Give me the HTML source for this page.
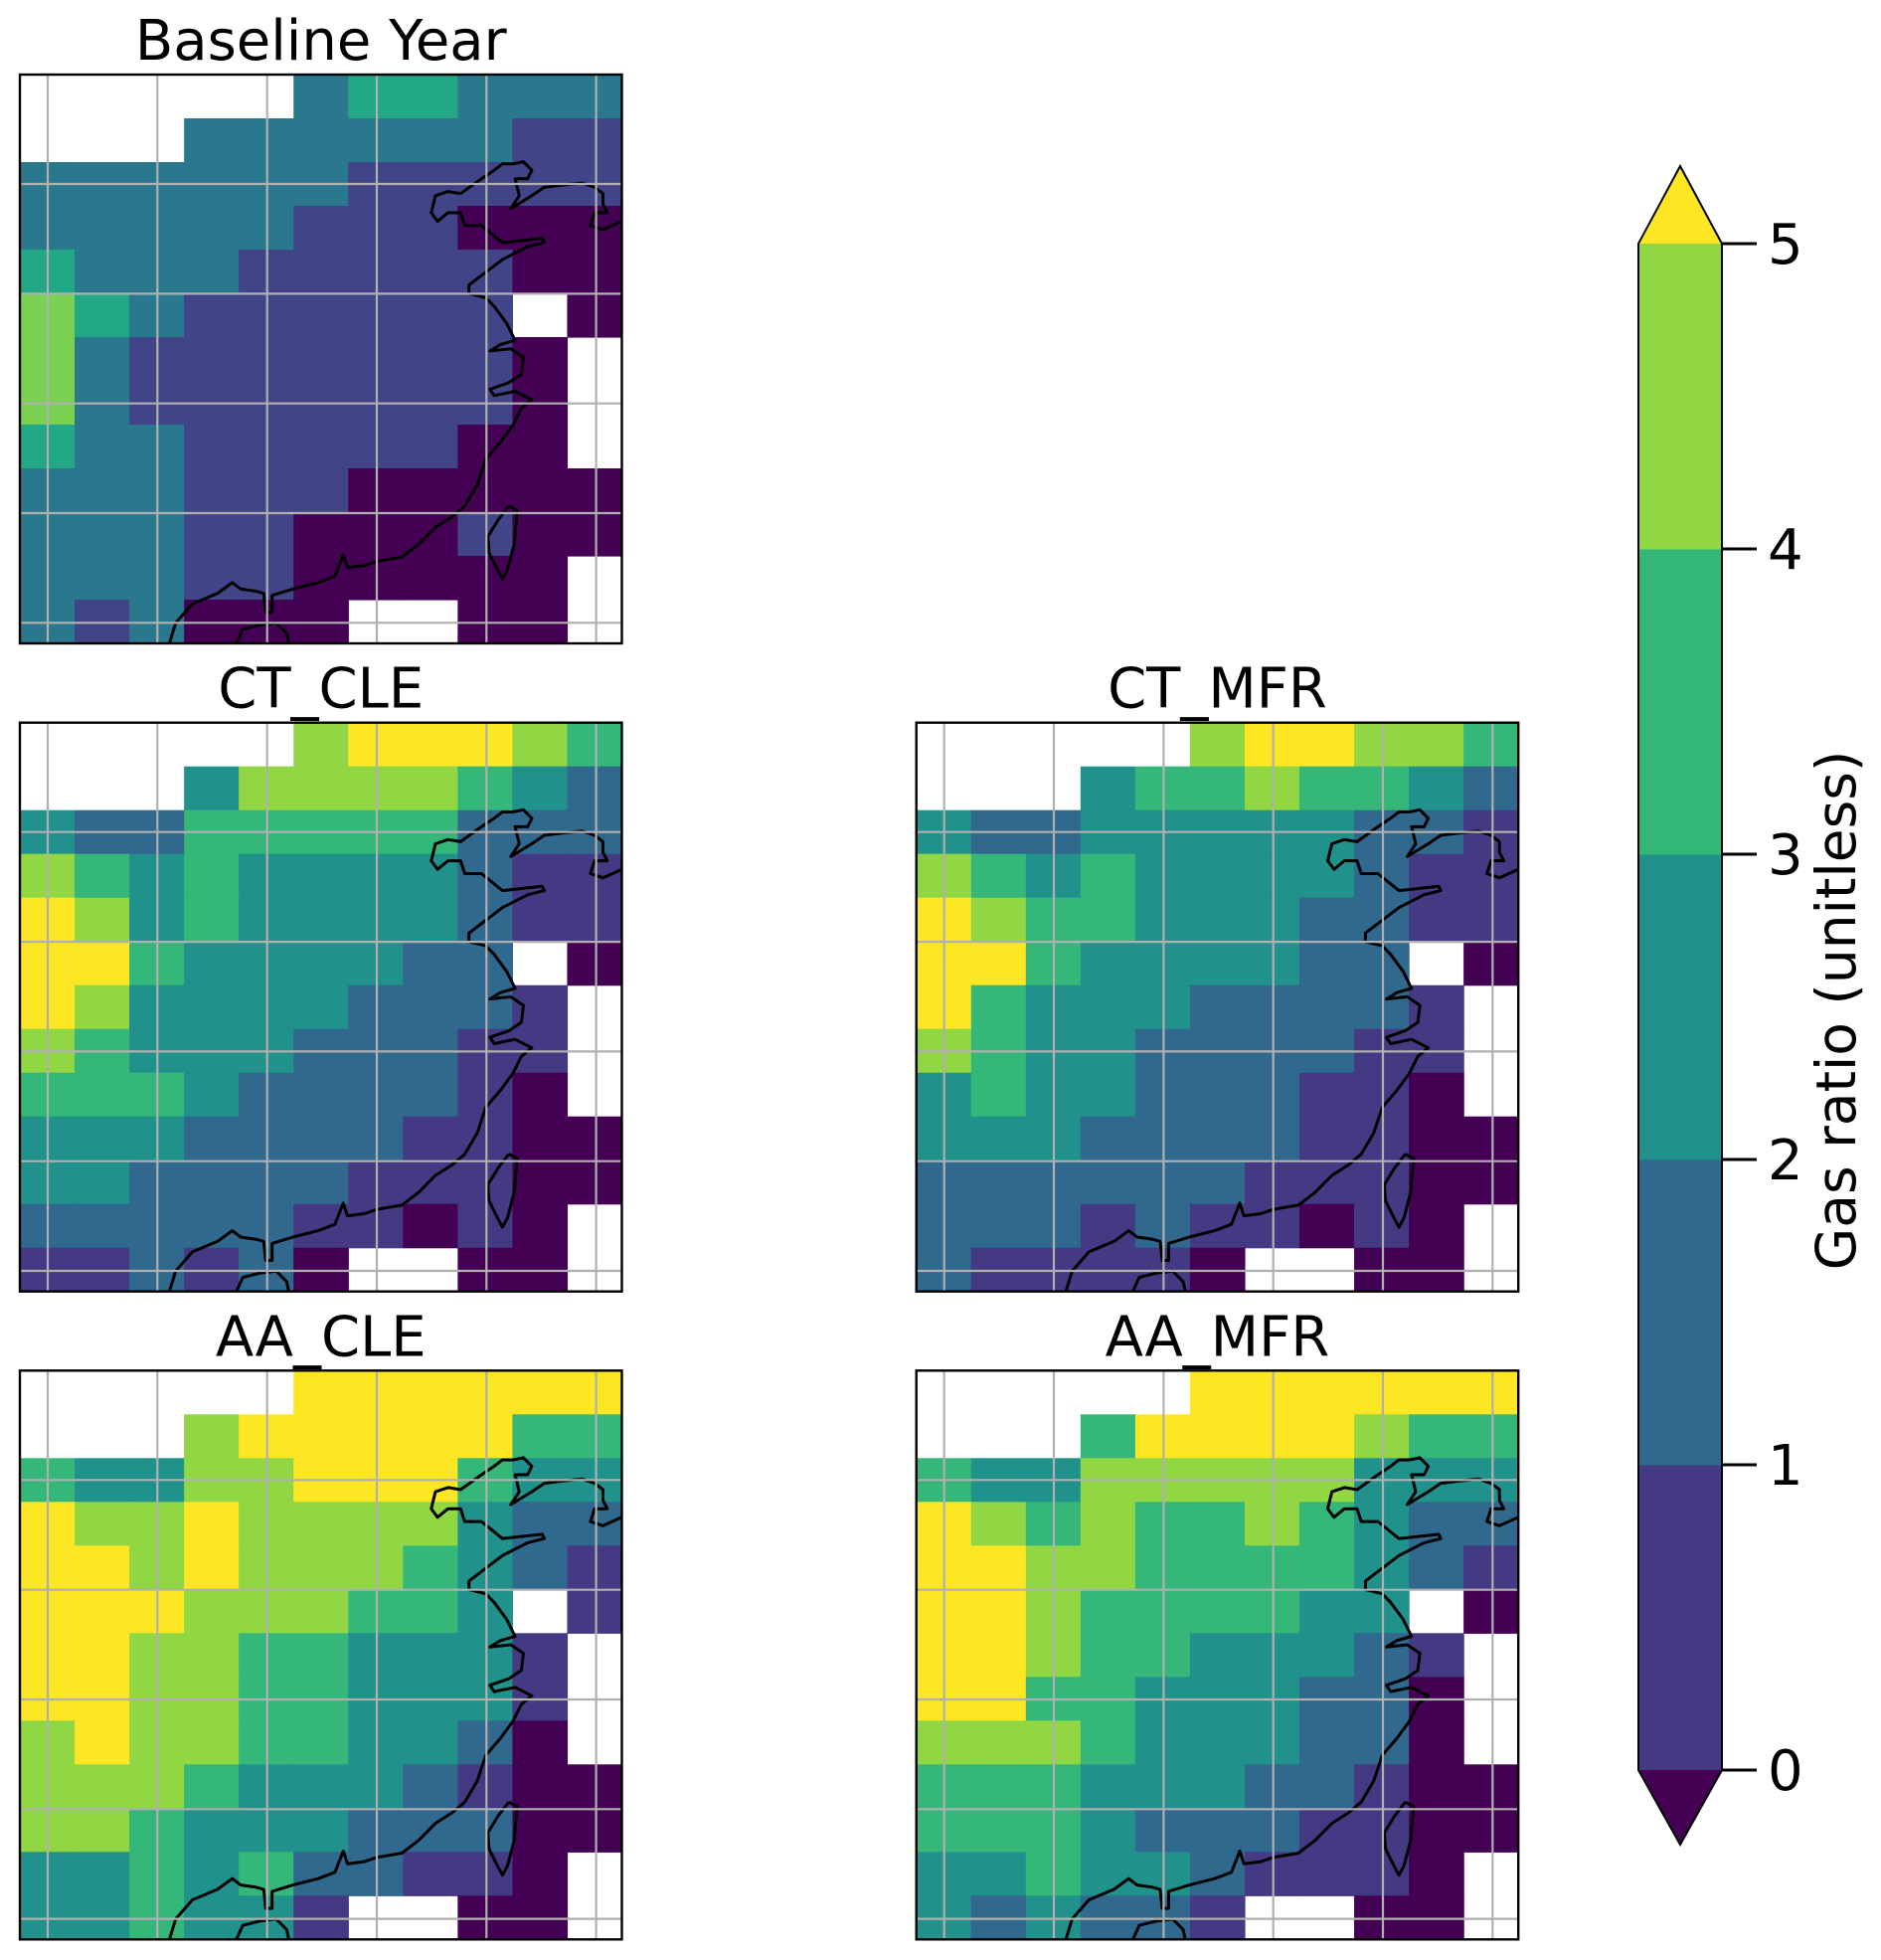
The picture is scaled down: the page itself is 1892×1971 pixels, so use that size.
<!DOCTYPE html>
<html><head><meta charset="utf-8"><style>
html,body{margin:0;padding:0;background:#fff;}
svg{display:block;font-family:"DejaVu Sans","Liberation Sans",sans-serif;}
</style></head><body>
<svg id="fig" width="1892" height="1971" viewBox="0 0 1892 1971" xmlns="http://www.w3.org/2000/svg"></svg>
<script>
const W = null;
const baselineVals = [
[W,W,W,W,W,1.5,2.5,2.5,1.5,1.5,1.5],
[W,W,W,1.5,1.5,1.5,1.5,1.5,1.5,0.5,0.5],
[1.5,1.5,1.5,1.5,1.5,1.5,0.5,0.5,0.5,0.5,0.5],
[1.5,1.5,1.5,1.5,1.5,0.5,0.5,0.5,-0.5,-0.5,-0.5],
[2.5,1.5,1.5,1.5,0.5,0.5,0.5,0.5,0.5,-0.5,-0.5],
[3.5,2.5,1.5,0.5,0.5,0.5,0.5,0.5,0.5,W,-0.5],
[3.5,1.5,0.5,0.5,0.5,0.5,0.5,0.5,0.5,-0.5,W],
[3.5,1.5,0.5,0.5,0.5,0.5,0.5,0.5,0.5,-0.5,W],
[2.5,1.5,1.5,0.5,0.5,0.5,0.5,0.5,-0.5,-0.5,W],
[1.5,1.5,1.5,0.5,0.5,0.5,-0.5,-0.5,-0.5,-0.5,-0.5],
[1.5,1.5,1.5,0.5,0.5,-0.5,-0.5,-0.5,0.5,-0.5,-0.5],
[1.5,1.5,1.5,0.5,0.5,-0.5,-0.5,-0.5,-0.5,-0.5,W],
[1.5,0.5,1.5,-0.5,-0.5,-0.5,W,W,-0.5,-0.5,W]];
const ctCleVals = [
[W,W,W,W,W,4.5,5.5,5.5,5.5,4.5,3.5],
[W,W,W,2.5,4.5,4.5,4.5,4.5,3.5,2.5,1.5],
[2.5,1.5,1.5,3.5,3.5,3.5,3.5,3.5,1.5,1.5,1.5],
[4.5,3.5,2.5,3.5,2.5,2.5,2.5,2.5,1.5,0.5,0.5],
[5.5,4.5,2.5,3.5,2.5,2.5,2.5,2.5,1.5,0.5,0.5],
[5.5,5.5,3.5,2.5,2.5,2.5,2.5,1.5,1.5,W,-0.5],
[5.5,4.5,2.5,2.5,2.5,2.5,1.5,1.5,1.5,0.5,W],
[4.5,3.5,2.5,2.5,2.5,1.5,1.5,1.5,0.5,0.5,W],
[3.5,3.5,3.5,2.5,1.5,1.5,1.5,1.5,0.5,-0.5,W],
[2.5,2.5,2.5,1.5,1.5,1.5,1.5,0.5,0.5,-0.5,-0.5],
[2.5,2.5,1.5,1.5,1.5,1.5,0.5,0.5,0.5,-0.5,-0.5],
[1.5,1.5,1.5,1.5,1.5,0.5,0.5,-0.5,0.5,-0.5,W],
[0.5,0.5,1.5,0.5,1.5,-0.5,W,W,-0.5,-0.5,W]];
const ctMfrVals = [
[W,W,W,W,W,4.5,5.5,5.5,4.5,4.5,3.5],
[W,W,W,2.5,3.5,3.5,4.5,3.5,3.5,2.5,1.5],
[2.5,1.5,1.5,2.5,2.5,2.5,2.5,2.5,1.5,1.5,0.5],
[4.5,3.5,2.5,3.5,2.5,2.5,2.5,2.5,1.5,0.5,0.5],
[5.5,4.5,3.5,3.5,2.5,2.5,2.5,1.5,1.5,0.5,0.5],
[5.5,5.5,3.5,2.5,2.5,2.5,2.5,1.5,1.5,W,-0.5],
[5.5,3.5,2.5,2.5,2.5,1.5,1.5,1.5,1.5,0.5,W],
[4.5,3.5,2.5,2.5,1.5,1.5,1.5,1.5,0.5,0.5,W],
[2.5,3.5,2.5,2.5,1.5,1.5,1.5,0.5,0.5,-0.5,W],
[2.5,2.5,2.5,1.5,1.5,1.5,1.5,0.5,0.5,-0.5,-0.5],
[1.5,1.5,1.5,1.5,1.5,1.5,0.5,0.5,0.5,-0.5,-0.5],
[1.5,1.5,1.5,0.5,1.5,0.5,0.5,-0.5,0.5,-0.5,W],
[1.5,0.5,0.5,0.5,0.5,-0.5,W,W,-0.5,-0.5,W]];
const aaCleVals = [
[W,W,W,W,W,5.5,5.5,5.5,5.5,5.5,5.5],
[W,W,W,4.5,5.5,5.5,5.5,5.5,5.5,3.5,3.5],
[3.5,2.5,2.5,4.5,4.5,5.5,5.5,5.5,3.5,2.5,2.5],
[5.5,4.5,4.5,5.5,4.5,4.5,4.5,4.5,2.5,1.5,1.5],
[5.5,5.5,4.5,5.5,4.5,4.5,4.5,3.5,2.5,1.5,0.5],
[5.5,5.5,5.5,4.5,4.5,4.5,3.5,3.5,2.5,W,0.5],
[5.5,5.5,4.5,4.5,3.5,3.5,2.5,2.5,2.5,0.5,W],
[5.5,5.5,4.5,4.5,3.5,3.5,2.5,2.5,2.5,0.5,W],
[4.5,5.5,4.5,4.5,3.5,3.5,2.5,2.5,1.5,-0.5,W],
[4.5,4.5,4.5,3.5,2.5,2.5,2.5,1.5,0.5,-0.5,-0.5],
[4.5,4.5,3.5,2.5,2.5,2.5,1.5,1.5,1.5,-0.5,-0.5],
[2.5,2.5,3.5,2.5,3.5,1.5,1.5,0.5,0.5,-0.5,W],
[2.5,2.5,3.5,2.5,2.5,0.5,W,W,-0.5,-0.5,W]];
const aaMfrVals = [
[W,W,W,W,W,5.5,5.5,5.5,5.5,5.5,5.5],
[W,W,W,3.5,5.5,5.5,5.5,5.5,4.5,3.5,3.5],
[3.5,2.5,2.5,4.5,4.5,4.5,4.5,4.5,2.5,2.5,2.5],
[5.5,4.5,3.5,4.5,3.5,3.5,4.5,3.5,2.5,1.5,1.5],
[5.5,5.5,4.5,4.5,3.5,3.5,3.5,3.5,2.5,1.5,0.5],
[5.5,5.5,4.5,3.5,3.5,3.5,3.5,2.5,2.5,W,-0.5],
[5.5,5.5,4.5,3.5,3.5,2.5,2.5,2.5,1.5,0.5,W],
[5.5,5.5,3.5,3.5,2.5,2.5,2.5,1.5,1.5,-0.5,W],
[4.5,4.5,4.5,3.5,2.5,2.5,2.5,1.5,1.5,-0.5,W],
[3.5,3.5,3.5,2.5,2.5,2.5,1.5,1.5,0.5,-0.5,-0.5],
[3.5,3.5,3.5,2.5,1.5,1.5,1.5,0.5,0.5,-0.5,-0.5],
[2.5,2.5,3.5,2.5,2.5,1.5,0.5,0.5,0.5,-0.5,W],
[2.5,1.5,2.5,1.5,1.5,0.5,W,W,-0.5,-0.5,W]];
const cbLevels = [0,1,2,3,4,5];
const cbTickLabels = ["0","1","2","3","4","5"];
const mainColors = ["#440154","#443983","#31688e","#21918c","#35b779","#90d743","#fde725"];
const baseColors = ["#440154","#414487","#2a788e","#22a884","#7ad151","#bddf26","#fde725"];

const NS="http://www.w3.org/2000/svg";
const svg=document.getElementById('fig');
function mk(tag,attrs,parent){const e=document.createElementNS(NS,tag);for(const k in attrs)e.setAttribute(k,attrs[k]);(parent||svg).appendChild(e);return e;}
function colorFor(v,pal){if(v===null)return null;let i=0;while(i<cbLevels.length&&v>=cbLevels[i])i++;return pal[i];}

const coast=[[405,1513],[420,1465],[460,1420],[520,1395],[555,1370],[575,1385],[610,1390],[630,1395],[635,1440],[650,1440],[650,1400],[700,1385],[760,1370],[800,1355],[820,1305],[830,1335],[870,1330],[900,1320],[960,1310],[1000,1280],[1040,1240],[1080,1215],[1110,1190],[1140,1140],[1160,1080],[1195,1040],[1225,1000],[1245,960],[1270,940],[1230,920],[1180,930],[1170,915],[1215,900],[1245,880],[1250,840],[1220,820],[1170,825],[1195,810],[1230,800],[1210,760],[1180,720],[1160,700],[1120,690],[1120,670],[1160,640],[1200,610],[1260,580],[1300,570],[1295,560],[1200,570],[1150,530],[1110,530],[1100,500],[1070,500],[1045,520],[1030,500],[1040,460],[1070,450],[1100,455],[1150,420],[1180,400],[1200,385],[1225,385],[1250,380],[1270,400],[1260,420],[1230,420],[1240,460],[1220,490],[1270,460],[1300,440],[1340,435],[1390,430],[1420,440],[1440,455],[1440,480],[1450,500],[1420,500],[1410,530],[1440,540],[1485,520]];
const taiwan=[[1215,1190],[1235,1200],[1228,1280],[1212,1340],[1200,1362],[1188,1340],[1168,1300],[1165,1262],[1190,1222],[1215,1190]];
const hainan=[[565,1513],[580,1480],[620,1470],[660,1465],[685,1490],[690,1513]];

const MW=605.5,MH=572,NC=11,NR=13;
function drawMap(name,title,vals,pal,x0,y0){
  const g=mk('g',{});
  
  
  const cw=MW/NC,ch=MH/NR;
  vals.forEach((row,r)=>row.forEach((v,c)=>{
    const col=colorFor(v,pal); if(!col)return;
    const rc=mk('rect',{x:(x0+c*cw).toFixed(2),y:(y0+r*ch).toFixed(2),width:(cw+0.6).toFixed(2),height:(ch+0.6).toFixed(2),fill:col},g);
    
    
  }));
  const tf=p=>[(x0+(p[0]-48)/1437*MW).toFixed(1),(y0+(p[1]-175)/1338*MH).toFixed(1)].join(',');
  [coast,taiwan,hainan].forEach(pts=>{
    const pl=mk('polyline',{points:pts.map(tf).join(' '),fill:'none',stroke:'#000','stroke-width':3,'stroke-linejoin':'round'},g);
    
    
  });
  [28,138.3,248.7,359,469.3,579.6].forEach(o=>{
    const l=mk('line',{x1:x0+o,x2:x0+o,y1:y0,y2:y0+MH,stroke:'#b0b0b0','stroke-width':2.2},g);
    
    
  });
  [110,220.4,330.7,441,551.3].forEach(o=>{
    const l=mk('line',{x1:x0,x2:x0+MW,y1:y0+o,y2:y0+o,stroke:'#b0b0b0','stroke-width':2.2},g);
    
    
  });
  const b=mk('rect',{x:x0,y:y0,width:MW,height:MH,fill:'none',stroke:'#000','stroke-width':2.4},g);
  
  
  const t=mk('text',{x:x0+MW/2,y:y0-15,'text-anchor':'middle','font-size':56,fill:'#000'},g);
  t.textContent=title;
  
  
}
drawMap('baseline-map','Baseline Year',baselineVals,baseColors,20,75);
drawMap('ct-cle-map','CT_CLE',ctCleVals,mainColors,20,726.7);
drawMap('ct-mfr-map','CT_MFR',ctMfrVals,mainColors,921.7,726.7);
drawMap('aa-cle-map','AA_CLE',aaCleVals,mainColors,20,1378.3);
drawMap('aa-mfr-map','AA_MFR',aaMfrVals,mainColors,921.7,1378.3);

// colorbar
const cbX0=1648,cbX1=1732,cbTop=245,cbBot=1780;
const yOf=v=>cbBot-(v-cbLevels[0])/(cbLevels[cbLevels.length-1]-cbLevels[0])*(cbBot-cbTop);
const cg=mk('g',{});


for(let i=0;i<cbLevels.length-1;i++){
  const r=mk('rect',{x:cbX0,y:yOf(cbLevels[i+1]),width:cbX1-cbX0,height:yOf(cbLevels[i])-yOf(cbLevels[i+1])+0.5,fill:mainColors[i+1]},cg);
  
  
}
const cx=(cbX0+cbX1)/2;
const tu=mk('polygon',{points:`${cbX0},${cbTop} ${cx},167 ${cbX1},${cbTop}`,fill:mainColors[6]},cg);


const td=mk('polygon',{points:`${cbX0},${cbBot} ${cx},1855 ${cbX1},${cbBot}`,fill:mainColors[0]},cg);


const ol=mk('polygon',{points:`${cbX0},${cbTop} ${cx},167 ${cbX1},${cbTop} ${cbX1},${cbBot} ${cx},1855 ${cbX0},${cbBot}`,fill:'none',stroke:'#000','stroke-width':2},cg);


cbLevels.forEach((v,i)=>{
  const y=yOf(v);
  const tk=mk('line',{x1:cbX1,x2:1767,y1:y,y2:y,stroke:'#000','stroke-width':3},cg);
  
  
  const lb=mk('text',{x:1778,y:y+20,'font-size':56,fill:'#000'},cg);
  lb.textContent=cbTickLabels[i];
  
  
});
const cl=mk('text',{x:0,y:0,'text-anchor':'middle','font-size':55,fill:'#000',transform:'translate(1866,1016) rotate(-90)'},cg);
cl.textContent='Gas ratio (unitless)';


</script>
</body></html>
